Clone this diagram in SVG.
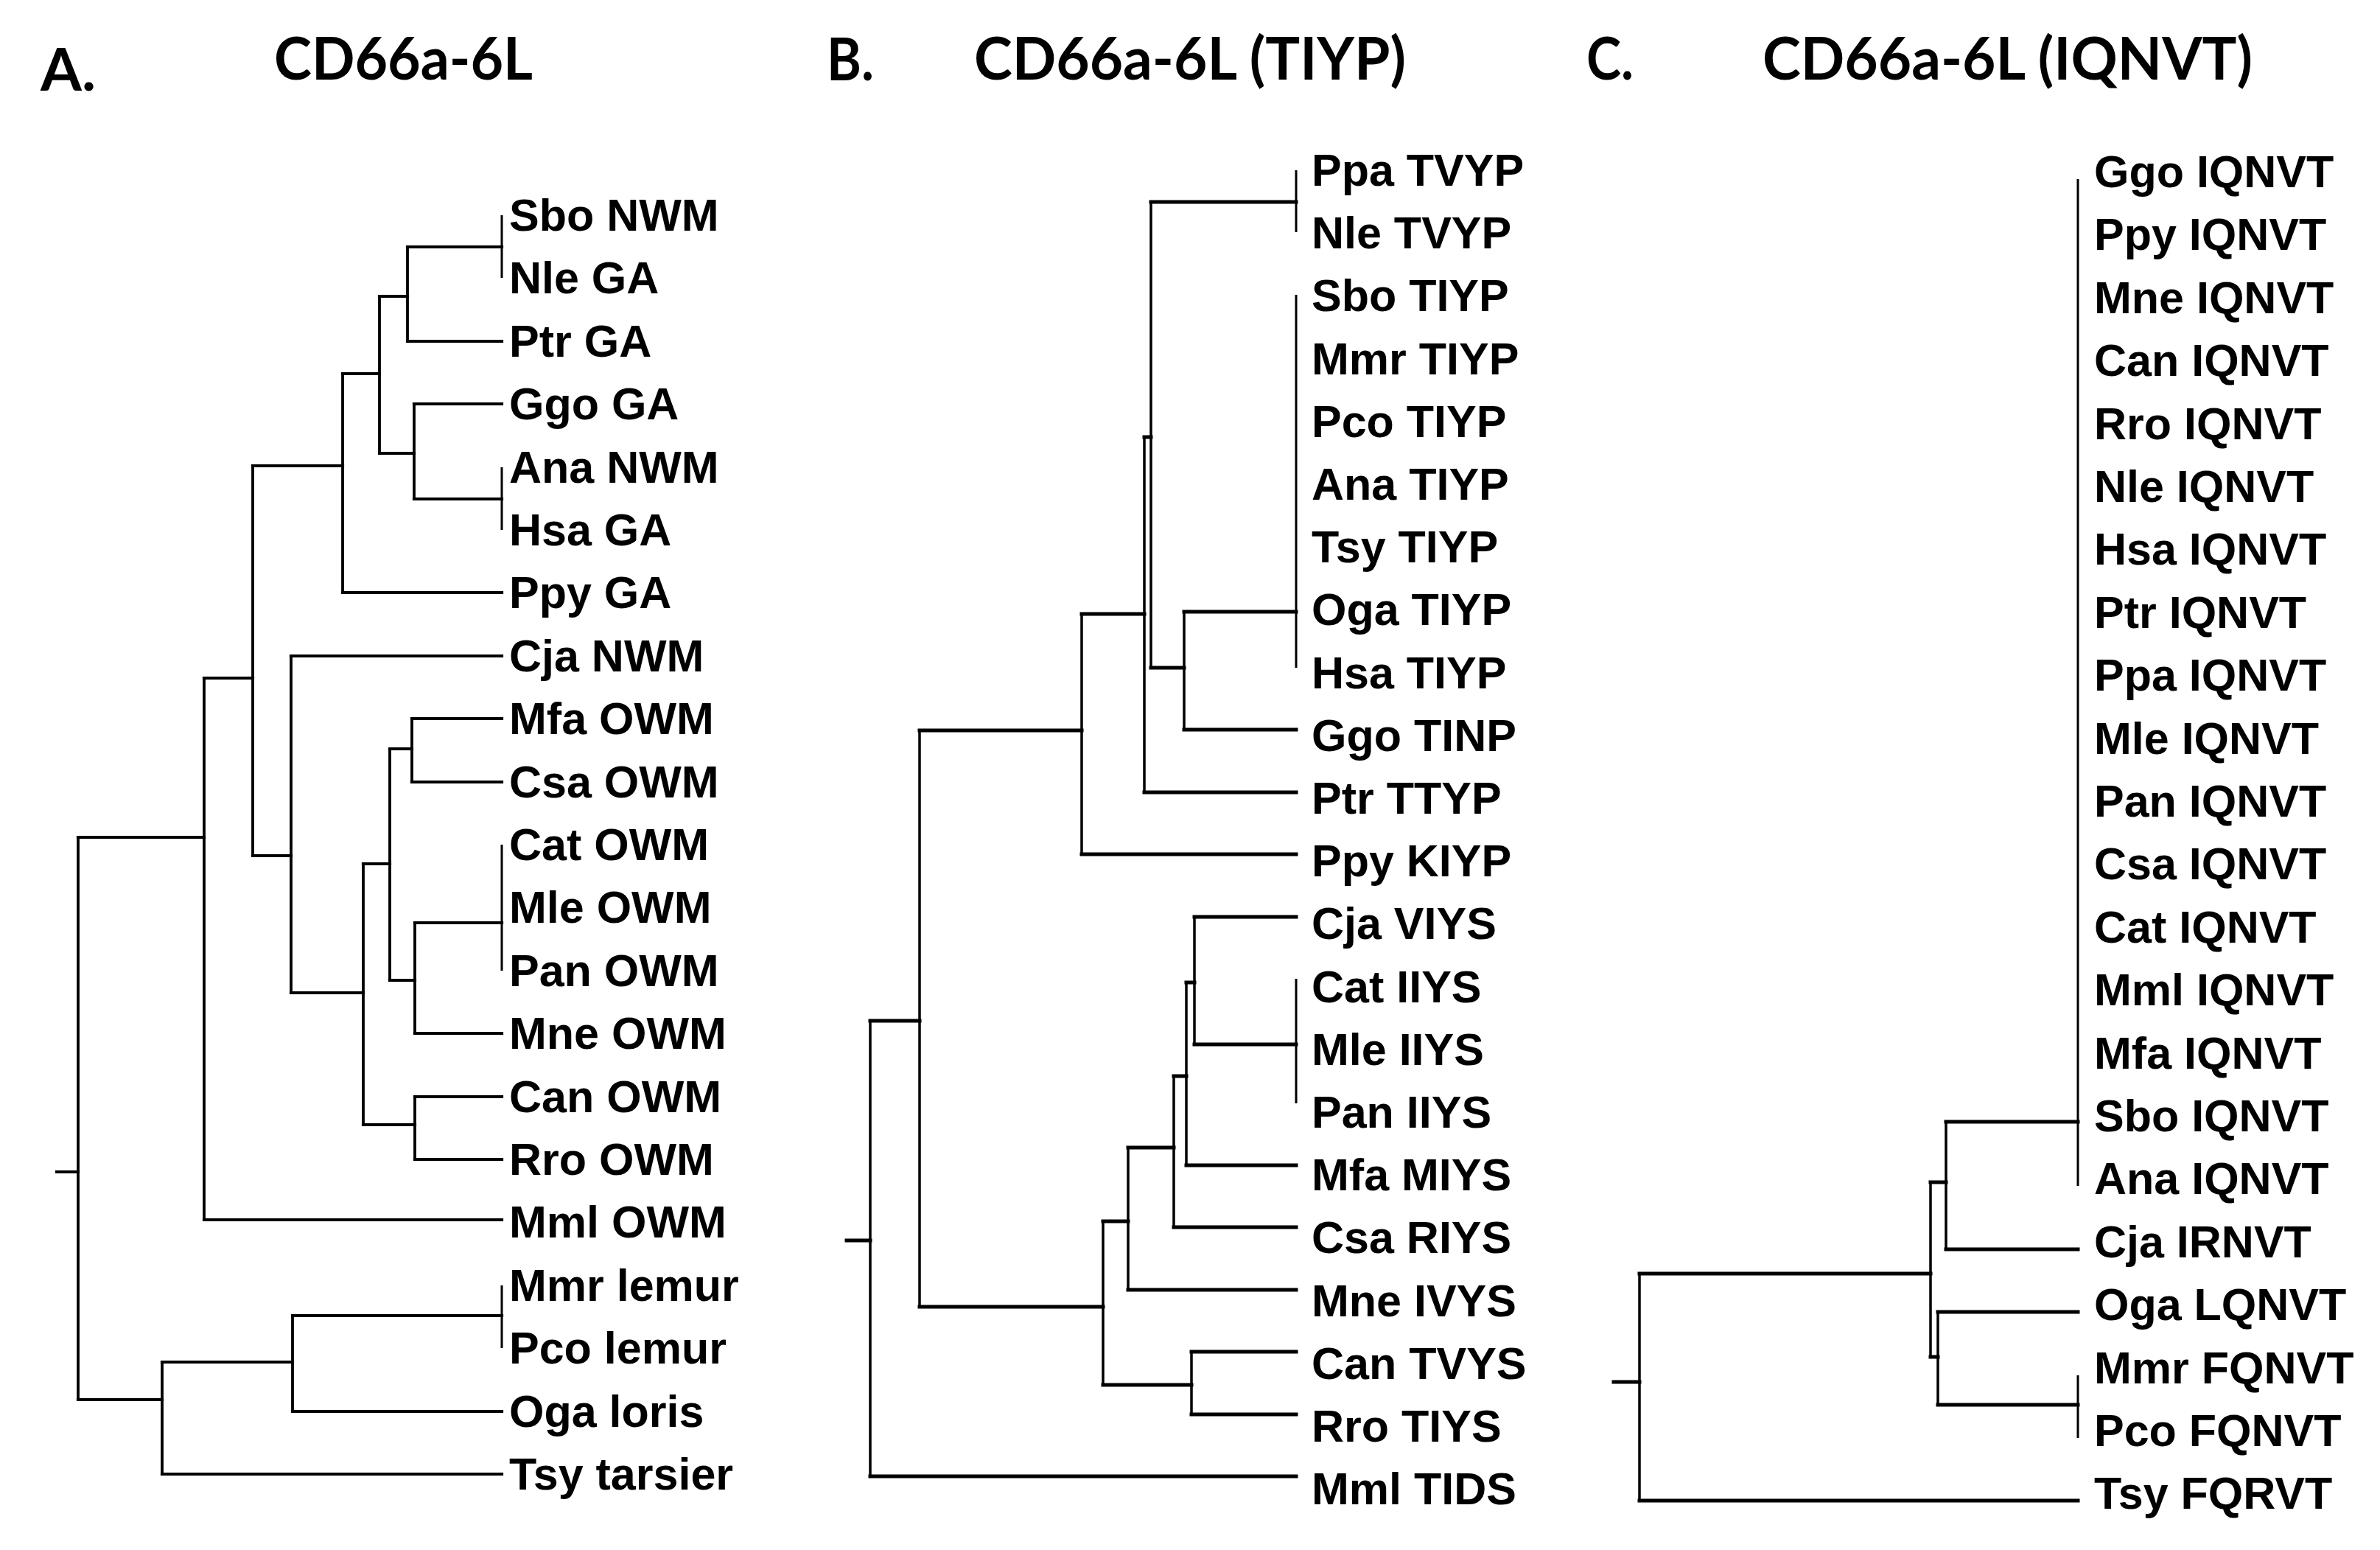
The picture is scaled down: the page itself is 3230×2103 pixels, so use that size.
<svg xmlns="http://www.w3.org/2000/svg" width="3230" height="2103" viewBox="0 0 3230 2103">
<style>
.bg{fill:#fff}
.ttl{font-family:Lato,"Open Sans","Liberation Sans",sans-serif;font-weight:700;font-size:80px;fill:#000}
.lb{font-family:"Liberation Sans",Arial,sans-serif;font-weight:700;font-size:61px;fill:#000}
.h{stroke:#000;stroke-width:5;fill:none;stroke-linecap:square}
.v{stroke:#000;stroke-width:3.5;fill:none}
.t{stroke:#000;stroke-width:3;fill:none}
.ha{stroke:#000;stroke-width:4.2;fill:none;stroke-linecap:square}
.va{stroke:#000;stroke-width:3.8;fill:none}
</style>
<rect class="bg" x="0" y="0" width="3230" height="2103"/>
<g id="titles">
<text id="titleA-letter" class="ttl" x="55" y="123" textLength="75" lengthAdjust="spacingAndGlyphs">A.</text>
<text id="titleA" class="ttl" x="372" y="108" textLength="351" lengthAdjust="spacingAndGlyphs">CD66a-6L</text>
<text id="titleB-letter" class="ttl" x="1122" y="109" textLength="64" lengthAdjust="spacingAndGlyphs">B.</text>
<text id="titleB" class="ttl" x="1322" y="108" textLength="586" lengthAdjust="spacingAndGlyphs">CD66a-6L (TIYP)</text>
<text id="titleC-letter" class="ttl" x="2153" y="108" textLength="64" lengthAdjust="spacingAndGlyphs">C.</text>
<text id="titleC" class="ttl" x="2392" y="108" textLength="665" lengthAdjust="spacingAndGlyphs">CD66a-6L (IQNVT)</text>
</g>
<g id="connectors">
<g id="treeA">
<path class="ha" d="M553 335H681M553 463H681M515 402H553M562 548H681M562 677H681M515 615H562M465 507H515M465 804H681M343 632H465M395 890H681M559 975H681M559 1061H681M529 1016H559M563 1252H681M563 1402H681M529 1330H563M493 1172H529M563 1488H681M563 1573H681M493 1526H563M395 1347H493M343 1161H395M277 920H343M277 1655H681M106 1136H277M77 1590H106M397 1785H681M397 1915H681M220 1848H397M220 2000H681M106 1899H220"/>
<path class="va" d="M553 335V463M562 548V677M515 402V615M465 507V804M559 975V1061M563 1252V1402M529 1016V1330M563 1488V1573M493 1172V1526M395 890V1347M343 632V1161M277 920V1655M106 1136V1899M397 1785V1915M220 1848V2000"/>
<path class="t" d="M681 292V377M681 634V719M681 1146V1317M681 1744V1829"/>
</g>
<g id="treeB">
<path class="h" d="M1562 274H1759M1607 830H1759M1607 990H1759M1562 906H1607M1553 593H1562M1553 1075H1759M1468 833H1553M1468 1159H1759M1248 991H1468M1621 1244H1759M1621 1417H1759M1610 1333H1621M1610 1581H1759M1593 1460H1610M1593 1665H1759M1531 1557H1593M1531 1750H1759M1497 1657H1531M1617 1834H1759M1617 1919H1759M1497 1879H1617M1248 1773H1497M1181 1385H1248M1181 2003H1759M1149 1683H1181"/>
<path class="v" d="M1607 830V990M1562 274V906M1553 593V1075M1468 833V1159M1621 1244V1417M1610 1333V1581M1593 1460V1665M1531 1557V1750M1617 1834V1919M1497 1657V1879M1248 991V1773M1181 1385V2003"/>
<path class="t" d="M1759 231V315M1759 400V906M1759 1328V1497"/>
</g>
<g id="treeC">
<path class="h" d="M2641 1522H2820M2641 1695H2820M2620 1604H2641M2630 1780H2820M2630 1906H2820M2620 1841H2630M2225 1728H2620M2225 2036H2820M2190 1875H2225"/>
<path class="v" d="M2641 1522V1695M2630 1780V1906M2620 1604V1841M2225 1728V2036"/>
<path class="t" d="M2820 243V1609M2820 1866V1951"/>
</g>
</g>
<g id="labelsA">
<g id="A-Sbo"><text class="lb" x="691" y="313">Sbo NWM</text></g>
<g id="A-Nle"><text class="lb" x="691" y="398">Nle GA</text></g>
<g id="A-Ptr"><text class="lb" x="691" y="484">Ptr GA</text></g>
<g id="A-Ggo"><text class="lb" x="691" y="569">Ggo GA</text></g>
<g id="A-Ana"><text class="lb" x="691" y="655">Ana NWM</text></g>
<g id="A-Hsa"><text class="lb" x="691" y="740">Hsa GA</text></g>
<g id="A-Ppy"><text class="lb" x="691" y="825">Ppy GA</text></g>
<g id="A-Cja"><text class="lb" x="691" y="911">Cja NWM</text></g>
<g id="A-Mfa"><text class="lb" x="691" y="996">Mfa OWM</text></g>
<g id="A-Csa"><text class="lb" x="691" y="1082">Csa OWM</text></g>
<g id="A-Cat"><text class="lb" x="691" y="1167">Cat OWM</text></g>
<g id="A-Mle"><text class="lb" x="691" y="1252">Mle OWM</text></g>
<g id="A-Pan"><text class="lb" x="691" y="1338">Pan OWM</text></g>
<g id="A-Mne"><text class="lb" x="691" y="1423">Mne OWM</text></g>
<g id="A-Can"><text class="lb" x="691" y="1509">Can OWM</text></g>
<g id="A-Rro"><text class="lb" x="691" y="1594">Rro OWM</text></g>
<g id="A-Mml"><text class="lb" x="691" y="1679">Mml OWM</text></g>
<g id="A-Mmr"><text class="lb" x="691" y="1765">Mmr lemur</text></g>
<g id="A-Pco"><text class="lb" x="691" y="1850">Pco lemur</text></g>
<g id="A-Oga"><text class="lb" x="691" y="1936">Oga loris</text></g>
<g id="A-Tsy"><text class="lb" x="691" y="2021">Tsy tarsier</text></g>
</g>
<g id="labelsB">
<g id="B-Ppa"><text class="lb" x="1780" y="252">Ppa TVYP</text></g>
<g id="B-Nle"><text class="lb" x="1780" y="337">Nle TVYP</text></g>
<g id="B-Sbo"><text class="lb" x="1780" y="422">Sbo TIYP</text></g>
<g id="B-Mmr"><text class="lb" x="1780" y="508">Mmr TIYP</text></g>
<g id="B-Pco"><text class="lb" x="1780" y="593">Pco TIYP</text></g>
<g id="B-Ana"><text class="lb" x="1780" y="678">Ana TIYP</text></g>
<g id="B-Tsy"><text class="lb" x="1780" y="763">Tsy TIYP</text></g>
<g id="B-Oga"><text class="lb" x="1780" y="848">Oga TIYP</text></g>
<g id="B-Hsa"><text class="lb" x="1780" y="934">Hsa TIYP</text></g>
<g id="B-Ggo"><text class="lb" x="1780" y="1019">Ggo TINP</text></g>
<g id="B-Ptr"><text class="lb" x="1780" y="1104">Ptr TTYP</text></g>
<g id="B-Ppy"><text class="lb" x="1780" y="1189">Ppy KIYP</text></g>
<g id="B-Cja"><text class="lb" x="1780" y="1274">Cja VIYS</text></g>
<g id="B-Cat"><text class="lb" x="1780" y="1360">Cat IIYS</text></g>
<g id="B-Mle"><text class="lb" x="1780" y="1445">Mle IIYS</text></g>
<g id="B-Pan"><text class="lb" x="1780" y="1530">Pan IIYS</text></g>
<g id="B-Mfa"><text class="lb" x="1780" y="1615">Mfa MIYS</text></g>
<g id="B-Csa"><text class="lb" x="1780" y="1700">Csa RIYS</text></g>
<g id="B-Mne"><text class="lb" x="1780" y="1786">Mne IVYS</text></g>
<g id="B-Can"><text class="lb" x="1780" y="1871">Can TVYS</text></g>
<g id="B-Rro"><text class="lb" x="1780" y="1956">Rro TIYS</text></g>
<g id="B-Mml"><text class="lb" x="1780" y="2041">Mml TIDS</text></g>
</g>
<g id="labelsC">
<g id="C-Ggo"><text class="lb" x="2842" y="254">Ggo IQNVT</text></g>
<g id="C-Ppy"><text class="lb" x="2842" y="339">Ppy IQNVT</text></g>
<g id="C-Mne"><text class="lb" x="2842" y="425">Mne IQNVT</text></g>
<g id="C-Can"><text class="lb" x="2842" y="510">Can IQNVT</text></g>
<g id="C-Rro"><text class="lb" x="2842" y="596">Rro IQNVT</text></g>
<g id="C-Nle"><text class="lb" x="2842" y="681">Nle IQNVT</text></g>
<g id="C-Hsa"><text class="lb" x="2842" y="766">Hsa IQNVT</text></g>
<g id="C-Ptr"><text class="lb" x="2842" y="852">Ptr IQNVT</text></g>
<g id="C-Ppa"><text class="lb" x="2842" y="937">Ppa IQNVT</text></g>
<g id="C-Mle"><text class="lb" x="2842" y="1023">Mle IQNVT</text></g>
<g id="C-Pan"><text class="lb" x="2842" y="1108">Pan IQNVT</text></g>
<g id="C-Csa"><text class="lb" x="2842" y="1193">Csa IQNVT</text></g>
<g id="C-Cat"><text class="lb" x="2842" y="1279">Cat IQNVT</text></g>
<g id="C-Mml"><text class="lb" x="2842" y="1364">Mml IQNVT</text></g>
<g id="C-Mfa"><text class="lb" x="2842" y="1450">Mfa IQNVT</text></g>
<g id="C-Sbo"><text class="lb" x="2842" y="1535">Sbo IQNVT</text></g>
<g id="C-Ana"><text class="lb" x="2842" y="1620">Ana IQNVT</text></g>
<g id="C-Cja"><text class="lb" x="2842" y="1706">Cja IRNVT</text></g>
<g id="C-Oga"><text class="lb" x="2842" y="1791">Oga LQNVT</text></g>
<g id="C-Mmr"><text class="lb" x="2842" y="1877">Mmr FQNVT</text></g>
<g id="C-Pco"><text class="lb" x="2842" y="1962">Pco FQNVT</text></g>
<g id="C-Tsy"><text class="lb" x="2842" y="2047">Tsy FQRVT</text></g>
</g>
</svg>
